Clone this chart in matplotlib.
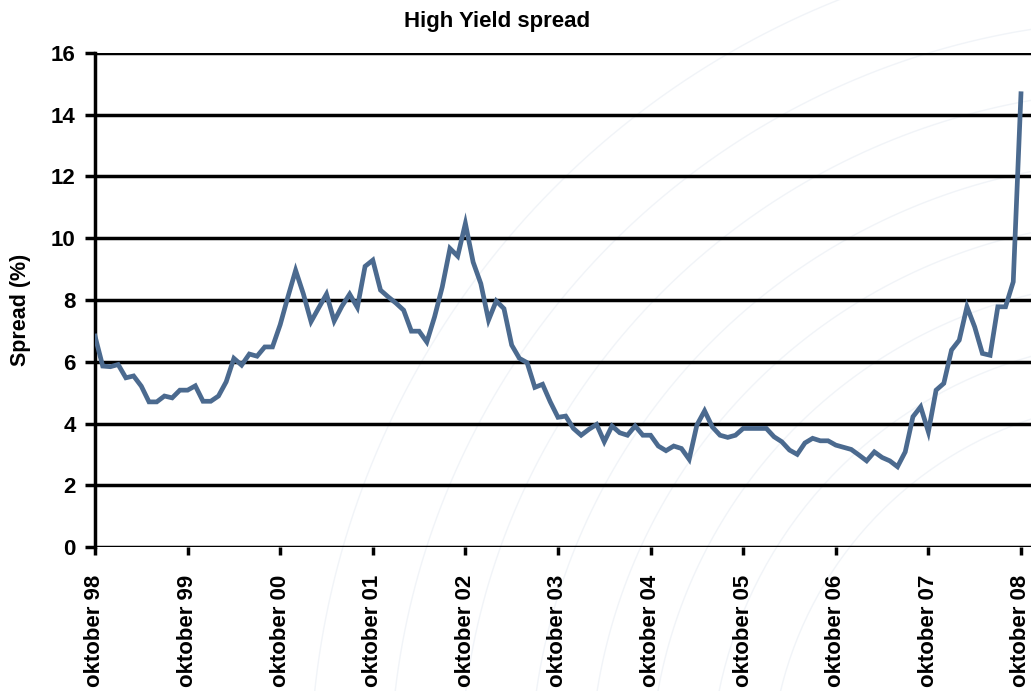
import matplotlib
matplotlib.use("Agg")
import matplotlib.pyplot as plt
import numpy as np

plt.rcParams['font.family'] = ['Liberation Sans', 'DejaVu Sans']

# Monthly high-yield spread (%), October 1998 .. October 2008
spread = [
    6.83, 5.86, 5.84, 5.91, 5.48, 5.54, 5.21, 4.70, 4.70, 4.89, 4.83, 5.08,
    5.08, 5.22, 4.72, 4.72, 4.89, 5.35, 6.11, 5.89, 6.25, 6.18, 6.48, 6.48,
    7.20, 8.10, 8.96, 8.20, 7.30, 7.75, 8.19, 7.32, 7.80, 8.19, 7.76, 9.09,
    9.29, 8.32, 8.10, 7.90, 7.67, 6.99, 6.99, 6.64, 7.45, 8.42, 9.67, 9.42,
    10.48, 9.23, 8.53, 7.35, 7.97, 7.72, 6.54, 6.11, 5.97, 5.17, 5.27, 4.70,
    4.20, 4.24, 3.84, 3.62, 3.81, 3.97, 3.41, 3.92, 3.70, 3.62, 3.92, 3.62,
    3.62, 3.27, 3.12, 3.27, 3.19, 2.84, 3.95, 4.41, 3.89, 3.62, 3.55, 3.62,
    3.84, 3.84, 3.84, 3.84, 3.57, 3.41, 3.14, 3.00, 3.37, 3.52, 3.44, 3.44,
    3.30, 3.23, 3.16, 2.98, 2.79, 3.08, 2.90, 2.79, 2.60, 3.08, 4.22, 4.54,
    3.73, 5.08, 5.30, 6.38, 6.70, 7.78, 7.13, 6.27, 6.21, 7.78, 7.78, 8.59,
    14.68,
]
tick_months = [0, 12, 24, 36, 48, 60, 72, 84, 96, 108, 120]
tick_labels = ["oktober 98", "oktober 99", "oktober 00", "oktober 01",
               "oktober 02", "oktober 03", "oktober 04", "oktober 05",
               "oktober 06", "oktober 07", "oktober 08"]
y_ticks = [0, 2, 4, 6, 8, 10, 12, 14, 16]

W, H = 1031, 691
fig = plt.figure(figsize=(W / 100, H / 100), dpi=100)
fig.patch.set_facecolor('white')

# faint background arcs (decorative watermark)
bg = fig.add_axes([0, 0, 1, 1], zorder=-5)
bg.set_xlim(0, W)
bg.set_ylim(H, 0)
bg.axis('off')
t = np.linspace(0, 2 * np.pi, 400)
for r in [380, 440, 500, 560, 620, 690, 760, 840]:
    bg.plot(1150 + r * np.cos(t), 780 + r * np.sin(t), color='#f1f4f8', lw=1.0)

ax = fig.add_axes([95 / W, (H - 547) / H, (W - 95) / W, 494 / H])
ax.patch.set_alpha(0)

x = np.arange(len(spread))
ax.plot(x, spread, color='#4B6A8F', lw=3.4, solid_joinstyle='miter', zorder=3)

ax.set_xlim(0, 121.3)
ax.set_ylim(0, 16)
ax.set_yticks(y_ticks)
ax.set_yticklabels([str(v) for v in y_ticks], fontsize=16, fontweight='bold')
ax.set_xticks(tick_months)
ax.set_xticklabels(tick_labels, rotation=90, fontsize=16, fontweight='bold',
                   va='top')

ax.grid(axis='y', color='black', lw=2.5, zorder=1)
ax.set_axisbelow(True)
for s in ['top', 'right', 'bottom']:
    ax.spines[s].set_visible(False)
ax.spines['left'].set_linewidth(2.5)
ax.tick_params(axis='y', length=7, width=2.5, pad=7, direction='out')
ax.tick_params(axis='x', length=6, width=2.5, pad=14, direction='out')

ax.set_ylabel("Spread (%)", fontsize=15.5, fontweight='bold')
ax.yaxis.set_label_coords(-64 / (W - 95), 0.48)
fig.text(497 / W, 1 - 22 / H, "High Yield spread", ha='center', va='center',
         fontsize=16, fontweight='bold')

fig.savefig("out.png", dpi=100)
